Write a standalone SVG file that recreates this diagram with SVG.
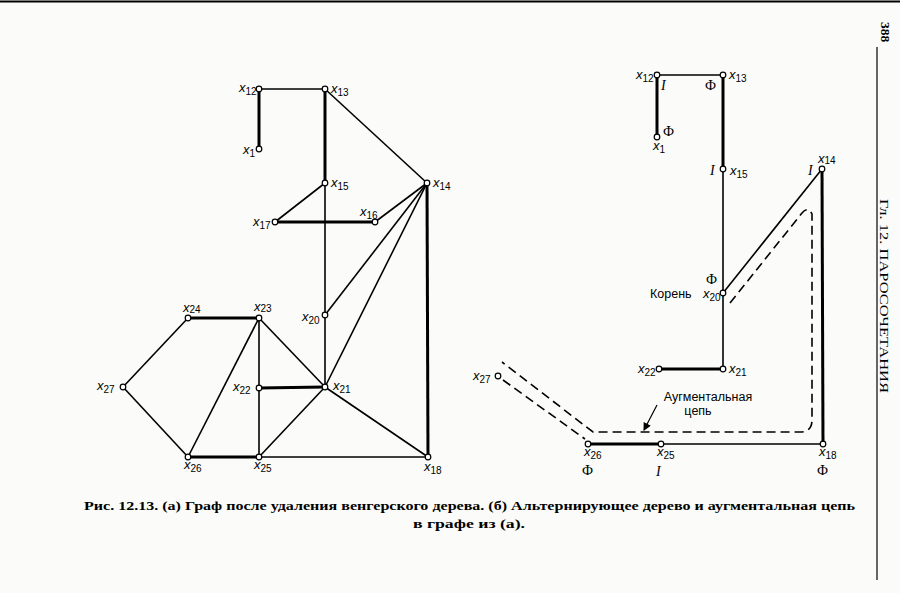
<svg xmlns="http://www.w3.org/2000/svg" width="900" height="593" viewBox="0 0 900 593">
<style>
.e{stroke:#000;stroke-width:1.6;fill:none}
.m{stroke:#000;stroke-width:3;fill:none}
.d{stroke:#000;stroke-width:1.6;fill:none;stroke-dasharray:9,5}
.n{fill:#fff;stroke:#000;stroke-width:1.2}
.l{font-family:"Liberation Sans",Arial,sans-serif;font-style:italic;font-size:13px;fill:#000}
.s{font-style:normal;font-size:10px}
.f{font-family:"Liberation Serif","Times New Roman",serif;font-size:14px;fill:#000}
.fi{font-family:"Liberation Serif","Times New Roman",serif;font-style:italic;font-size:14px;fill:#000}
.t{font-family:"Liberation Sans",Arial,sans-serif;font-size:12.5px;fill:#000}
.c{font-family:"Liberation Serif","Times New Roman",serif;font-size:13.5px;font-weight:bold;fill:#000}
.h{font-family:"Liberation Serif","Times New Roman",serif;font-size:12.5px;fill:#000}
</style>
<defs>
<marker id="ah" markerWidth="8" markerHeight="8" refX="7" refY="4" orient="auto" markerUnits="userSpaceOnUse">
<path d="M0,0 L8,4 L0,8 Z" fill="#000"/>
</marker>
</defs>
<rect width="900" height="593" fill="#fbfcf9"/>
<line x1="0" y1="1.5" x2="900" y2="1.5" stroke="#000" stroke-width="2"/>
<line x1="877" y1="47" x2="877" y2="580" stroke="#000" stroke-width="1.2"/>
<text class="c" transform="translate(881,22) rotate(90)" font-size="13">388</text>
<text class="h" transform="translate(880,199) rotate(90)" textLength="194" lengthAdjust="spacingAndGlyphs">Гл. 12.   ПАРОСОЧЕТАНИЯ</text>

<g id="connectors">
<!-- left graph -->
<line class="e" x1="259" y1="89" x2="325" y2="89"/>
<line class="m" x1="259" y1="89" x2="259" y2="149"/>
<line class="m" x1="325" y1="89" x2="325" y2="183"/>
<line class="e" x1="325" y1="89" x2="427" y2="183"/>
<line class="e" x1="325" y1="183" x2="275" y2="222"/>
<line class="m" x1="275" y1="222" x2="375" y2="222"/>
<line class="e" x1="325" y1="183" x2="325" y2="387"/>
<line class="e" x1="427" y1="183" x2="375" y2="222"/>
<line class="e" x1="427" y1="183" x2="325" y2="315"/>
<line class="e" x1="427" y1="183" x2="325" y2="387"/>
<line class="m" x1="427" y1="183" x2="428" y2="457"/>
<line class="m" x1="188" y1="318" x2="259" y2="318"/>
<line class="e" x1="188" y1="318" x2="123" y2="387"/>
<line class="e" x1="123" y1="387" x2="188" y2="457"/>
<line class="e" x1="188" y1="457" x2="259" y2="318"/>
<line class="e" x1="259" y1="318" x2="259" y2="457"/>
<line class="e" x1="259" y1="318" x2="325" y2="387"/>
<line class="m" x1="259" y1="388" x2="325" y2="387"/>
<line class="e" x1="325" y1="387" x2="259" y2="457"/>
<line class="e" x1="325" y1="387" x2="428" y2="457"/>
<line class="m" x1="188" y1="457" x2="259" y2="457"/>
<line class="e" x1="259" y1="457" x2="428" y2="457"/>
<!-- right graph -->
<line class="e" x1="657" y1="75" x2="723" y2="75"/>
<line class="m" x1="657" y1="75" x2="657" y2="137"/>
<line class="m" x1="723" y1="75" x2="723" y2="169"/>
<line class="e" x1="723" y1="169" x2="723" y2="369"/>
<line class="e" x1="723" y1="293" x2="822" y2="169"/>
<line class="m" x1="822" y1="169" x2="823" y2="444"/>
<line class="m" x1="659" y1="369" x2="723" y2="369"/>
<line class="m" x1="588" y1="444" x2="661" y2="444"/>
<line class="e" x1="661" y1="444" x2="823" y2="444"/>
<!-- augmenting path (dashed) -->
<path class="d" d="M730,303 L802,213 Q808,206 812,214 L812,420 Q812,432 800,432 L593,432 L502,362"/>
<path class="d" d="M503,380 L585,439"/>
<line x1="657" y1="405" x2="644" y2="430" stroke="#000" stroke-width="1.2" marker-end="url(#ah)"/>
</g>

<g id="left-nodes">
<g id="L12"><circle class="n" cx="259" cy="89" r="2.8"/><text class="l" x="239" y="92">x<tspan class="s" dy="3">12</tspan></text></g>
<g id="L13"><circle class="n" cx="325" cy="89" r="2.8"/><text class="l" x="331" y="93">x<tspan class="s" dy="3">13</tspan></text></g>
<g id="L1"><circle class="n" cx="259" cy="149" r="2.8"/><text class="l" x="243" y="154">x<tspan class="s" dy="3">1</tspan></text></g>
<g id="L15"><circle class="n" cx="325" cy="183" r="2.8"/><text class="l" x="331" y="187">x<tspan class="s" dy="3">15</tspan></text></g>
<g id="L14"><circle class="n" cx="427" cy="183" r="2.8"/><text class="l" x="433" y="187">x<tspan class="s" dy="3">14</tspan></text></g>
<g id="L17"><circle class="n" cx="275" cy="222" r="2.8"/><text class="l" x="253" y="226">x<tspan class="s" dy="3">17</tspan></text></g>
<g id="L16"><circle class="n" cx="375" cy="222" r="2.8"/><text class="l" x="360" y="216">x<tspan class="s" dy="3">16</tspan></text></g>
<g id="L20"><circle class="n" cx="325" cy="315" r="2.8"/><text class="l" x="302" y="321">x<tspan class="s" dy="3">20</tspan></text></g>
<g id="L23"><circle class="n" cx="259" cy="318" r="2.8"/><text class="l" x="254" y="311">x<tspan class="s" dy="1">23</tspan></text></g>
<g id="L24"><circle class="n" cx="188" cy="318" r="2.8"/><text class="l" x="183" y="312">x<tspan class="s" dy="1">24</tspan></text></g>
<g id="L27"><circle class="n" cx="123" cy="387" r="2.8"/><text class="l" x="97" y="390">x<tspan class="s" dy="3">27</tspan></text></g>
<g id="L22"><circle class="n" cx="259" cy="388" r="2.8"/><text class="l" x="233" y="391">x<tspan class="s" dy="3">22</tspan></text></g>
<g id="L21"><circle class="n" cx="325" cy="387" r="2.8"/><text class="l" x="333" y="390">x<tspan class="s" dy="3">21</tspan></text></g>
<g id="L26"><circle class="n" cx="188" cy="457" r="2.8"/><text class="l" x="184" y="469">x<tspan class="s" dy="3">26</tspan></text></g>
<g id="L25"><circle class="n" cx="259" cy="457" r="2.8"/><text class="l" x="254" y="469">x<tspan class="s" dy="3">25</tspan></text></g>
<g id="L18"><circle class="n" cx="428" cy="457" r="2.8"/><text class="l" x="424" y="471">x<tspan class="s" dy="3">18</tspan></text></g>
</g>

<g id="right-nodes">
<g id="R12"><circle class="n" cx="657" cy="75" r="2.8"/><text class="l" x="636" y="79">x<tspan class="s" dy="3">12</tspan></text><text class="fi" x="661" y="90">I</text></g>
<g id="R13"><circle class="n" cx="723" cy="75" r="2.8"/><text class="l" x="729" y="79">x<tspan class="s" dy="3">13</tspan></text><text class="f" x="705" y="90">Ф</text></g>
<g id="R1"><circle class="n" cx="657" cy="137" r="2.8"/><text class="l" x="653" y="150">x<tspan class="s" dy="3">1</tspan></text><text class="f" x="663" y="136">Ф</text></g>
<g id="R15"><circle class="n" cx="723" cy="169" r="2.8"/><text class="l" x="730" y="175">x<tspan class="s" dy="3">15</tspan></text><text class="fi" x="710" y="175">I</text></g>
<g id="R14"><circle class="n" cx="822" cy="169" r="2.8"/><text class="l" x="818" y="163">x<tspan class="s" dy="1">14</tspan></text><text class="fi" x="808" y="175">I</text></g>
<g id="R20"><circle class="n" cx="723" cy="293" r="2.8"/><text class="l" x="703" y="298">x<tspan class="s" dy="3">20</tspan></text><text class="f" x="706" y="284">Ф</text><text class="t" x="650" y="298">Корень</text></g>
<g id="R22"><circle class="n" cx="659" cy="369" r="2.8"/><text class="l" x="638" y="373">x<tspan class="s" dy="3">22</tspan></text></g>
<g id="R21"><circle class="n" cx="723" cy="369" r="2.8"/><text class="l" x="729" y="373">x<tspan class="s" dy="3">21</tspan></text></g>
<g id="R27"><circle class="n" cx="498" cy="376" r="2.8"/><text class="l" x="473" y="380">x<tspan class="s" dy="3">27</tspan></text></g>
<g id="R26"><circle class="n" cx="588" cy="444" r="2.8"/><text class="l" x="584" y="456">x<tspan class="s" dy="3">26</tspan></text><text class="f" x="582" y="475">Ф</text></g>
<g id="R25"><circle class="n" cx="661" cy="444" r="2.8"/><text class="l" x="657" y="456">x<tspan class="s" dy="3">25</tspan></text><text class="fi" x="656" y="476">I</text></g>
<g id="R18"><circle class="n" cx="823" cy="444" r="2.8"/><text class="l" x="819" y="456">x<tspan class="s" dy="3">18</tspan></text><text class="f" x="817" y="475">Ф</text></g>
<g id="aug-label"><text class="t" x="708" y="401" text-anchor="middle">Аугментальная</text><text class="t" x="698" y="415" text-anchor="middle">цепь</text></g>
</g>

<g id="caption">
<text class="c" x="84" y="510" textLength="771" lengthAdjust="spacingAndGlyphs">Рис. 12.13. (а) Граф после удаления венгерского дерева. (б) Альтернирующее дерево и аугментальная цепь</text>
<text class="c" x="413" y="528" textLength="112" lengthAdjust="spacingAndGlyphs">в графе из (а).</text>
</g>
</svg>
